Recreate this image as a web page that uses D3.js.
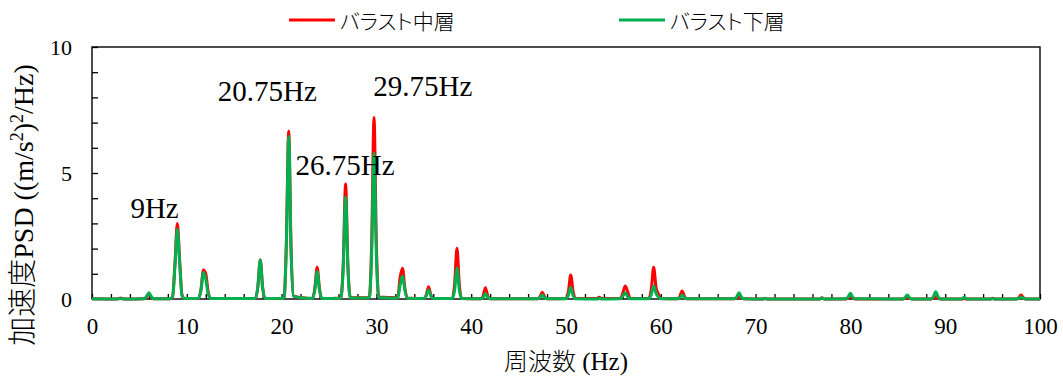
<!DOCTYPE html>
<html>
<head>
<meta charset="utf-8">
<script src="https://cdn.jsdelivr.net/npm/d3@7"></script>
<style>
  html, body { margin: 0; padding: 0; background: #fff; }
  svg { display: block; }
</style>
</head>
<body>
<svg id="chart" width="1063" height="381"></svg>
<script>
// Frequency axis points (Hz) shared by both series
const freq = [
  0, 2.5, 2.75, 3, 3.25, 3.5,
  5.5, 5.75, 6, 6.25, 6.5,
  8.25, 8.5, 8.75, 9, 9.25, 9.5, 9.75,
  11.25, 11.5, 11.75, 12, 12.25, 12.5,
  17.25, 17.5, 17.75, 18, 18.25,
  20.25, 20.5, 20.75, 21, 21.25, 22,
  23.25, 23.5, 23.75, 24, 24.25,
  26.25, 26.5, 26.75, 27, 27.25,
  29.25, 29.5, 29.75, 30, 30.25,
  32.25, 32.5, 32.75, 33, 33.25,
  35, 35.25, 35.5, 35.75, 36,
  38, 38.25, 38.5, 38.75, 39,
  41, 41.25, 41.5, 41.75, 42,
  47, 47.25, 47.5, 47.75, 48,
  50, 50.25, 50.5, 50.75, 51,
  53.25, 53.5, 53.75,
  55.75, 56, 56.25, 56.5, 56.75,
  58.75, 59, 59.25, 59.5, 59.75, 60,
  61.75, 62, 62.25, 62.5, 62.75,
  67.75, 68, 68.25, 68.5, 68.75,
  70.75, 71, 71.25,
  76.75, 77, 77.25,
  79.5, 79.75, 80, 80.25, 80.5,
  85.5, 85.75, 86, 86.25, 86.5,
  88.5, 88.75, 89, 89.25, 89.5,
  91.75, 92, 92.25,
  94.75, 95, 95.25,
  97.5, 97.75, 98, 98.25, 98.5,
  100
];

// Acceleration PSD, middle ballast layer ((m/s^2)^2/Hz)
const psdMiddle = [
  0.01, 0, 0.01, 0.04, 0.01, 0,
  0.01, 0.08, 0.2, 0.08, 0.01,
  0.01, 0.1, 1.4, 3.0, 1.5, 0.15, 0.02,
  0.03, 0.4, 1.15, 1.0, 0.3, 0.03,
  0.02, 0.5, 1.55, 0.45, 0.02,
  0.03, 2.2, 6.67, 2.0, 0.12, 0.06,
  0.02, 0.4, 1.26, 0.4, 0.02,
  0.04, 1.4, 4.56, 1.3, 0.05,
  0.05, 2.2, 7.2, 2.1, 0.08,
  0.06, 0.85, 1.22, 0.45, 0.04,
  0.02, 0.15, 0.49, 0.15, 0.02,
  0.02, 0.6, 2.01, 0.55, 0.02,
  0.01, 0.12, 0.45, 0.12, 0.01,
  0.01, 0.08, 0.27, 0.08, 0.01,
  0.02, 0.3, 0.95, 0.3, 0.02,
  0.02, 0.07, 0.02,
  0.02, 0.25, 0.52, 0.3, 0.03,
  0.02, 0.4, 1.26, 0.45, 0.2, 0.02,
  0.01, 0.1, 0.32, 0.1, 0.01,
  0.01, 0.04, 0.1, 0.04, 0.01,
  0, 0.02, 0,
  0, 0.05, 0,
  0, 0.04, 0.1, 0.04, 0,
  0, 0.02, 0.05, 0.02, 0,
  0, 0.03, 0.08, 0.03, 0,
  0, 0.02, 0,
  0, 0.03, 0,
  0, 0.05, 0.16, 0.05, 0,
  0
];

// Acceleration PSD, lower ballast layer ((m/s^2)^2/Hz)
const psdLower = [
  0.01, 0, 0.005, 0.02, 0.005, 0,
  0.01, 0.1, 0.25, 0.1, 0.01,
  0.01, 0.08, 1.3, 2.77, 1.4, 0.12, 0.02,
  0.03, 0.35, 1.05, 0.8, 0.2, 0.02,
  0.02, 0.5, 1.55, 0.45, 0.02,
  0.03, 2.1, 6.45, 1.9, 0.12, 0.05,
  0.02, 0.35, 1.08, 0.35, 0.02,
  0.03, 1.2, 4.04, 1.15, 0.04,
  0.05, 1.8, 5.78, 1.7, 0.06,
  0.04, 0.55, 0.91, 0.35, 0.03,
  0.02, 0.12, 0.36, 0.12, 0.02,
  0.02, 0.35, 1.22, 0.35, 0.02,
  0.01, 0.06, 0.22, 0.06, 0.01,
  0.01, 0.05, 0.16, 0.05, 0.01,
  0.01, 0.15, 0.46, 0.14, 0.01,
  0, 0.02, 0,
  0.01, 0.12, 0.25, 0.1, 0.01,
  0.01, 0.18, 0.52, 0.22, 0.08, 0.01,
  0.01, 0.05, 0.16, 0.05, 0.01,
  0.01, 0.08, 0.25, 0.08, 0.01,
  0, 0.03, 0,
  0, 0.04, 0,
  0.01, 0.07, 0.23, 0.07, 0.01,
  0, 0.05, 0.16, 0.05, 0,
  0, 0.09, 0.29, 0.09, 0,
  0, 0.07, 0,
  0, 0.01, 0,
  0, 0.03, 0.08, 0.03, 0,
  0
];

const seriesNames = ["バラスト中層", "バラスト下層"];
const seriesColors = ["#FF0000", "#00B050"];

// Peak frequency annotations, anchored in data units (text centre, baseline)
const peakLabels = ["9Hz", "20.75Hz", "26.75Hz", "29.75Hz"];
const peakLabelFreq = [6.6, 18.5, 26.7, 34.9];
const peakLabelVal = [3.2, 7.86, 4.92, 8.07];

const xTickLabels = [0, 10, 20, 30, 40, 50, 60, 70, 80, 90, 100];
const yTickLabels = [0, 5, 10];

const SERIF = '"Liberation Serif", "Times New Roman", serif';
const JP = '"Noto Sans CJK JP", sans-serif';

const svg = d3.select("#chart");
const plotL = 92, plotR = 1040, plotT = 47, plotB = 299;

const x = d3.scaleLinear().domain([0, 100]).range([plotL, plotR]);
const y = d3.scaleLinear().domain([0, 10]).range([plotB, plotT]);

// Minor inward ticks
svg.append("g")
  .attr("transform", `translate(0,${plotB})`)
  .call(d3.axisBottom(x).tickValues(d3.range(0, 101, 2)).tickSize(-5).tickFormat(""))
  .call(g => g.select(".domain").remove())
  .call(g => g.selectAll("line").attr("stroke", "#000").attr("stroke-width", 1.3));

svg.append("g")
  .attr("transform", `translate(${plotL},0)`)
  .call(d3.axisLeft(y).tickValues(d3.range(0, 11, 1)).tickSize(-6).tickFormat(""))
  .call(g => g.select(".domain").remove())
  .call(g => g.selectAll("line").attr("stroke", "#000").attr("stroke-width", 1.3));

// Tick labels
svg.append("g")
  .attr("transform", `translate(0,${plotB})`)
  .call(d3.axisBottom(x).tickValues(xTickLabels).tickSize(0).tickPadding(19))
  .call(g => g.select(".domain").remove())
  .call(g => g.selectAll("text").style("font-family", SERIF).style("font-size", "23px").attr("fill", "#000"));

svg.append("g")
  .attr("transform", `translate(${plotL},0)`)
  .call(d3.axisLeft(y).tickValues(yTickLabels).tickSize(0).tickPadding(20))
  .call(g => g.select(".domain").remove())
  .call(g => g.selectAll("text").style("font-family", SERIF).style("font-size", "22px").attr("fill", "#000"));

// Plot frame
svg.append("rect")
  .attr("x", plotL).attr("y", plotT)
  .attr("width", plotR - plotL).attr("height", plotB - plotT)
  .attr("fill", "none").attr("stroke", "#000").attr("stroke-width", 1.4);

// Spectra
const line = d3.line()
  .x((d, i) => x(freq[i]))
  .y(d => y(d))
  .curve(d3.curveMonotoneX);

[psdMiddle, psdLower].forEach((vals, k) => {
  svg.append("path")
    .datum(vals)
    .attr("fill", "none")
    .attr("stroke", seriesColors[k])
    .attr("stroke-width", 3)
    .attr("stroke-linejoin", "round")
    .attr("d", line);
});

// Peak annotations
peakLabels.forEach((t, i) => {
  svg.append("text")
    .attr("x", x(peakLabelFreq[i]))
    .attr("y", y(peakLabelVal[i]))
    .attr("text-anchor", "middle")
    .style("font-family", SERIF)
    .style("font-size", "29px")
    .text(t);
});

// Axis titles
const xTitle = svg.append("text")
  .attr("x", (plotL + plotR) / 2)
  .attr("y", 370)
  .attr("text-anchor", "middle");
xTitle.append("tspan").style("font-family", JP).style("font-weight", 300).style("font-size", "24px").text("周波数");
xTitle.append("tspan").style("font-family", SERIF).style("font-size", "25px").text(" (Hz)");

const yTitle = svg.append("text")
  .attr("transform", "translate(33,205) rotate(-90)")
  .attr("text-anchor", "middle");
yTitle.append("tspan").style("font-family", JP).style("font-weight", 300).style("font-size", "29px").text("加速度");
const sup = [["PSD ((m/s", 0], ["2", -10], [")", 10], ["2", -10], ["/Hz)", 10]];
sup.forEach(([t, dy]) => {
  yTitle.append("tspan")
    .attr("dy", dy)
    .style("font-family", SERIF)
    .style("font-size", dy < 0 ? "18px" : "28px")
    .text(t);
});

// Legend
const legendX = [289, 619];
seriesNames.forEach((name, i) => {
  const g = svg.append("g").attr("transform", `translate(${legendX[i]},20)`);
  g.append("line").attr("x1", 0).attr("x2", 46).attr("y1", 0).attr("y2", 0)
    .attr("stroke", seriesColors[i]).attr("stroke-width", 3);
  g.append("text").attr("x", 51).attr("y", 8.5)
    .style("font-family", JP).style("font-weight", 300)
    .style("font-size", "21px").style("font-feature-settings", '"palt"')
    .text(name);
});
</script>
</body>
</html>
